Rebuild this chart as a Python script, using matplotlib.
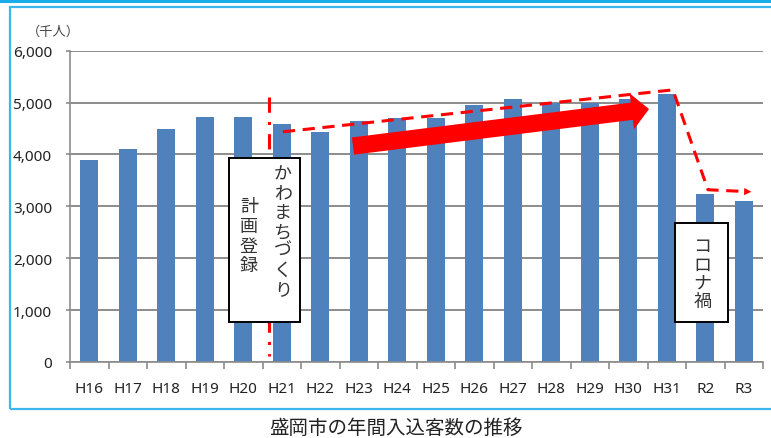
import matplotlib
matplotlib.use("Agg")
import matplotlib.pyplot as plt
from matplotlib.patches import Rectangle, FancyArrowPatch
from matplotlib.lines import Line2D

plt.rcParams['font.family'] = ['Noto Sans', 'Noto Sans CJK JP', 'DejaVu Sans']
JP = ['Noto Sans CJK JP', 'DejaVu Sans']

# 年度と年間入込客数（千人）
years = ["H16", "H17", "H18", "H19", "H20", "H21", "H22", "H23", "H24",
         "H25", "H26", "H27", "H28", "H29", "H30", "H31", "R2", "R3"]
visitors = [3890, 4110, 4500, 4720, 4720, 4590, 4430, 4650, 4700,
            4710, 4950, 5070, 5000, 5000, 5070, 5170, 3230, 3100]

y_ticks = [0, 1000, 2000, 3000, 4000, 5000, 6000]
unit_label = "（千人）"
title = "盛岡市の年間入込客数の推移"
note_left = ["かわまちづくり", "計画登録"]
note_right = "コロナ禍"

BAR = "#4F81BD"
RED = "#FF0000"
GRID = "#8C8C8C"
FRAME = "#3DB6EE"

W, H = 771, 439
fig = plt.figure(figsize=(W / 100, H / 100), dpi=100)

# outer decorations (pixel -> figure fraction)
fig.add_artist(Line2D([0, 1], [1 - 1.5 / H, 1 - 1.5 / H], color="#1AACE8",
                      linewidth=2.2, transform=fig.transFigure))
fig.add_artist(Rectangle((9.5 / W, 1 - 410 / H), 1.0, (410 - 7.5) / H,
                         transform=fig.transFigure, fill=False,
                         edgecolor=FRAME, linewidth=1.6))

ax = fig.add_axes([70 / W, 1 - 363 / H, (763 - 70) / W, (363 - 51.7) / H])
x = list(range(len(years)))
ax.bar(x, visitors, width=0.48, color=BAR, zorder=2)

ax.set_xlim(-0.5, len(years) - 0.5)
ax.set_ylim(0, 6000)
ax.set_yticks(y_ticks)
ax.set_yticklabels([f"{v:,}" for v in y_ticks], fontsize=11, color="#222222")
ax.set_xticks(x)
ax.set_xticklabels(years, fontsize=11, color="#222222")
ax.set_xticks([i - 0.5 for i in range(len(years) + 1)], minor=True)
ax.tick_params(axis="x", which="major", length=0, pad=14)
ax.tick_params(axis="x", which="minor", length=5, color=GRID, width=1.2)
ax.tick_params(axis="y", length=3, color=GRID, width=1.2, pad=10)
ax.yaxis.grid(True, color=GRID, linewidth=1.4, zorder=0)
ax.set_axisbelow(True)
for s in ["top", "right"]:
    ax.spines[s].set_visible(False)
ax.spines["left"].set_color(GRID)
ax.spines["bottom"].set_color(GRID)
ax.spines["left"].set_linewidth(1.2)
ax.spines["bottom"].set_linewidth(1.2)

fig.text(27 / W, 1 - 32 / H, unit_label, fontsize=9.5, family=JP,
         color="#444444", va="center", ha="left")

# vertical dash-dot line (registration)
ax.plot([4.67, 4.67], [5115, 110], color=RED, linewidth=2.2,
        linestyle=(0, (5, 3, 1, 3)), zorder=4)

# dashed trend line with arrow
trend_x = [5.03, 15.16, 16.07, 17.05]
trend_y = [4437, 5245, 3320, 3285]
ax.plot(trend_x, trend_y, color=RED, linewidth=2.2, linestyle=(0, (4, 2.5)),
        zorder=4)
ax.add_patch(FancyArrowPatch((17.0, 3285), (17.27, 3280), arrowstyle="-|>",
                             mutation_scale=13, color=RED, linewidth=0,
                             zorder=5))

# thick upward arrow
ax.add_patch(FancyArrowPatch((6.85, 4162), (14.54, 4875),
                             arrowstyle="simple,head_length=1.25,head_width=2.6,tail_width=1.25",
                             mutation_scale=10, color=RED, linewidth=0,
                             shrinkA=0, shrinkB=0, zorder=5))

# note boxes
ax.add_patch(Rectangle((3.63, 771), 1.84, 3931 - 771, facecolor="white",
                       edgecolor="black", linewidth=1.4, zorder=6))
ax.add_patch(Rectangle((15.22, 771), 1.38, 2680 - 771, facecolor="white",
                       edgecolor="black", linewidth=1.4, zorder=6))

ax.text(5.03, 3800, "\n".join(note_left[0]), family=JP, fontsize=13,
        ha="center", va="top", linespacing=1.08, color="#333333", zorder=7)
ax.text(4.15, 3180, "\n".join(note_left[1]), family=JP, fontsize=13,
        ha="center", va="top", linespacing=1.13, color="#333333", zorder=7)
ax.text(15.92, 2400, "\n".join(note_right), family=JP, fontsize=13,
        ha="center", va="top", linespacing=1.0, color="#333333", zorder=7)

fig.text(396 / W, 1 - 428 / H, title, fontsize=14, family=JP,
         ha="center", va="center", color="#222222")

fig.savefig("out.png", dpi=100)
